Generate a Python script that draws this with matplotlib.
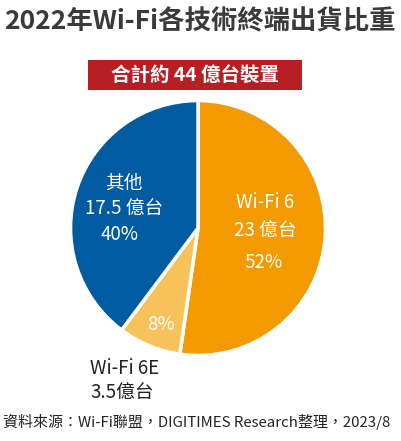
import matplotlib
matplotlib.use("Agg")
import matplotlib.pyplot as plt
from matplotlib.patches import Rectangle

plt.rcParams['font.family'] = ['Noto Sans CJK TC', 'DejaVu Sans']

categories = ["Wi-Fi 6", "Wi-Fi 6E", "其他"]
values = [23, 3.5, 17.5]
percents = ["52%", "8%", "40%"]
colors = ["#F29A00", "#F8C25A", "#005BA0"]

W, H = 401, 441
fig = plt.figure(figsize=(W/100, H/100), dpi=100)
fig.patch.set_facecolor("white")

def px(x, y):
    return x / W, 1 - y / H

cx, cy, r = 198, 228, 130
ax = fig.add_axes([(cx - r)/W, (H - cy - r)/H, 2*r/W, 2*r/H])
ax.pie(values, colors=colors, startangle=90, counterclock=False, radius=1,
       wedgeprops=dict(edgecolor="white", linewidth=2.5))
ax.set_xlim(-1.02, 1.02); ax.set_ylim(-1.02, 1.02)
ax.set_aspect("equal"); ax.axis("off")

fig.text(*px(200, 22), "2022年Wi-Fi各技術終端出貨比重", ha="center", va="center",
         fontsize=19, fontweight="bold", color="#3a3a3a")
fig.patches.append(Rectangle(px(88, 90), 214/W, 30/H, transform=fig.transFigure,
                             facecolor="#B71F25", edgecolor="none"))
fig.text(*px(195, 75), "合計約 44 億台裝置", ha="center", va="center",
         fontsize=14, fontweight="bold", color="white")

tk = dict(ha="center", va="center", fontsize=13.5, color="white")
fig.text(*px(265, 202), categories[0], **tk)
fig.text(*px(265, 230), f"{values[0]:g} 億台", **tk)
fig.text(*px(264, 262), percents[0], **tk)
fig.text(*px(124, 183), categories[2], **tk)
fig.text(*px(124, 208), f"{values[2]:g} 億台", **tk)
fig.text(*px(120, 235), percents[2], **tk)
fig.text(*px(161, 324), percents[1], **tk)
fig.text(*px(125, 368), categories[1], ha="center", va="center", fontsize=13.5, color="#222222")
fig.text(*px(122, 392), f"{values[1]:g}億台", ha="center", va="center", fontsize=13.5, color="#222222")

fig.text(*px(3, 422), "資料來源：Wi-Fi聯盟，DIGITIMES Research整理，2023/8", ha="left",
         va="center", fontsize=10.8, color="#222222")

fig.savefig("out.png", dpi=100)
